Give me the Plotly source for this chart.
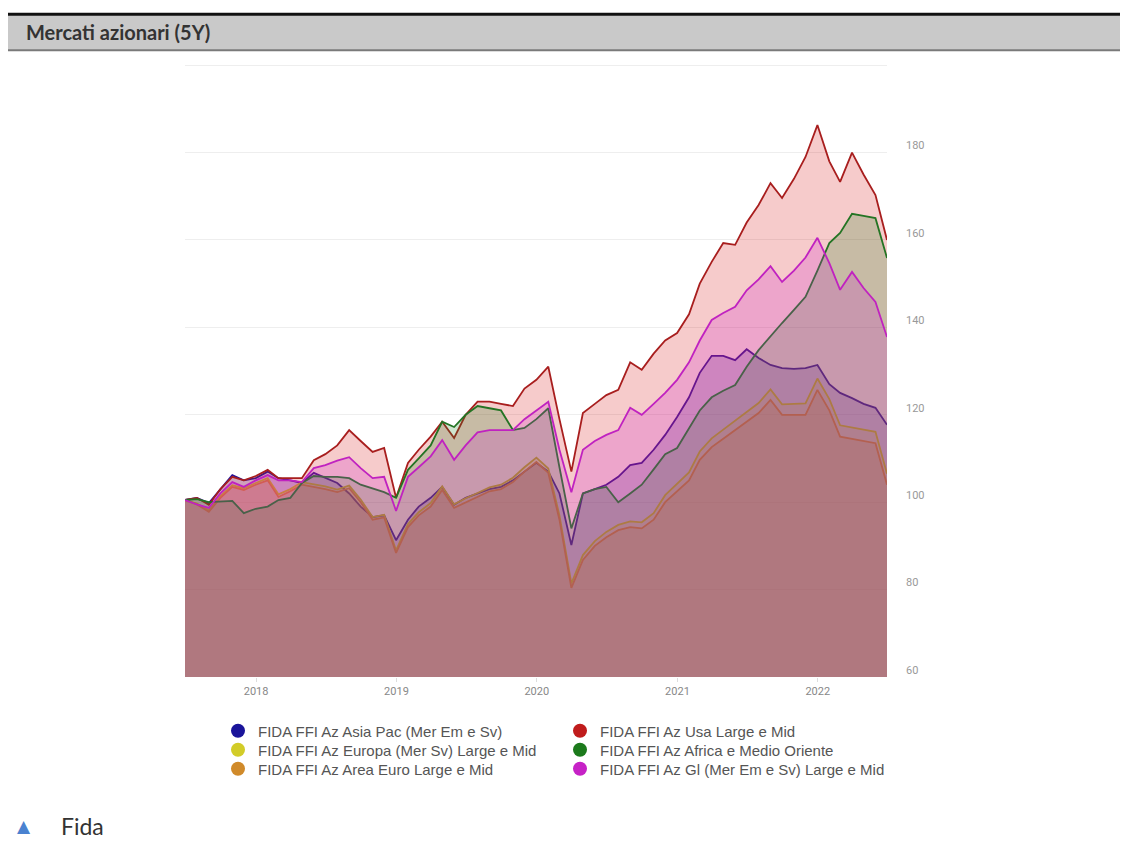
import plotly.graph_objects as go
import pandas as pd

dates = pd.date_range("2017-06-30", "2022-06-30", freq="ME")

asia_pac = [100.5, 101, 99.8, 103, 106.2, 105, 105.5, 107, 105.5, 105, 104.4, 106.7,
            105.5, 104.4, 102, 99, 96.6, 97, 91.3, 96, 99, 101, 103.5, 99.4,
            101, 102, 103, 103.5, 105, 107, 109, 107, 102, 90.2, 102, 103,
            104, 105.8, 108.5, 109, 112, 115.4, 119.5, 124, 129.6, 133.5, 133.5, 132.5,
            135, 133, 131.4, 130.7, 130.5, 130.7, 131.4, 127, 125, 123.8, 122.5, 121.6, 117.7]
usa = [100.5, 101, 99.4, 103, 105.8, 105, 106, 107.4, 105.5, 105.5, 105.5, 109.6,
       111, 113, 116.5, 114, 111.5, 112.4, 101, 109, 112, 115, 118.4, 114.7,
       120, 123, 123, 122.5, 122, 126, 128, 131, 119, 107, 120.4, 122.5,
       124.5, 125.7, 132, 130.3, 134, 137, 138.7, 143, 150, 155, 159.3, 158.9,
       164, 168, 173, 169.6, 174, 179, 186.3, 178, 173.3, 180, 175, 170.3, 160]
area_euro = [100.5, 99.5, 97.8, 101, 103.5, 102.8, 104, 105, 101.2, 102.5, 104, 103.5,
             103, 102.3, 103.2, 100, 96, 96.5, 88.4, 94.3, 97, 99, 102.8, 98.7,
             100, 101.2, 102.5, 103, 104.6, 107, 109.2, 106.7, 96, 80.4, 86.8, 90,
             92, 93.6, 94.3, 94, 96, 100, 102.5, 105, 109.7, 112.6, 114.5, 116.5,
             118.5, 120.4, 123.4, 120, 120, 120, 125.7, 121, 115, 114.5, 114, 113.5, 104]
europa = [100.5, 99.7, 98.2, 101.4, 103.9, 103.2, 104.4, 105.5, 101.8, 103, 104.6, 104.1,
          103.6, 102.9, 103.8, 100.6, 96.6, 97.1, 89, 95, 97.7, 99.8, 103.6, 99.5,
          100.9, 102.1, 103.4, 104, 105.6, 108, 110.2, 107.7, 97, 81.4, 87.9, 91.1,
          93.2, 94.8, 95.6, 95.4, 97.5, 101.6, 104.2, 106.8, 111.6, 114.6, 116.6, 118.6,
          120.7, 122.7, 125.8, 122.4, 122.5, 122.6, 128.3, 123.6, 117.6, 117.1, 116.6, 116.1, 106.5]
africa_mo = [100.5, 100.7, 100, 100.2, 100.3, 97.5, 98.5, 99, 100.5, 101, 104.4, 106,
             105.8, 105.8, 105.5, 104, 103.2, 102.3, 101, 107.4, 110, 113, 118.4, 117.2,
             120, 122, 121.5, 121, 116.5, 117, 119, 121.5, 108, 94, 102, 103,
             103.5, 100, 102, 104, 107.5, 111, 112.4, 117, 121, 124, 125.5, 126.8,
             131, 134.8, 138, 141, 144, 147, 153, 159.3, 161.6, 166, 165.5, 165, 155.9]
globale = [100.5, 99.5, 98.7, 102, 104.6, 103.5, 105, 106.2, 105, 105, 104.6, 107.8,
           108.5, 109.5, 110.3, 107.8, 105.5, 105.8, 98, 105.8, 108, 110.5, 114.2, 109.7,
           113, 116, 116.5, 116.5, 116.5, 119, 121, 123, 112, 102.3, 112, 114,
           115.4, 116.5, 121.6, 120, 122.5, 125, 128, 132, 137, 141.7, 143.3, 144.7,
           148.5, 151, 154, 150.4, 153, 156, 160.5, 154.7, 148.6, 152.7, 149, 145.8, 137.8]

names = ["FIDA FFI Az Asia Pac (Mer Em e Sv)",
         "FIDA FFI Az Europa (Mer Sv) Large e Mid",
         "FIDA FFI Az Area Euro Large e Mid",
         "FIDA FFI Az Usa Large e Mid",
         "FIDA FFI Az Africa e Medio Oriente",
         "FIDA FFI Az Gl (Mer Em e Sv) Large e Mid"]
series = [asia_pac, europa, area_euro, usa, africa_mo, globale]
line_colors = ["#24149a", "#c8c020", "#d4883a", "#a81e1e", "#247424", "#c022c0"]
fill_colors = ["rgba(30,20,170,0.22)", "rgba(210,200,30,0.22)", "rgba(210,130,40,0.22)",
               "rgba(215,20,20,0.22)", "rgba(30,130,30,0.22)", "rgba(205,30,205,0.22)"]
legend_colors = ["#1a149a", "#d2cc28", "#d08a2a", "#c01c1c", "#1c7a1c", "#c622c6"]

y_ticks = [60, 80, 100, 120, 140, 160, 180, 200]
y_labels = ["60", "80", "100", "120", "140", "160", "180", ""]
x_ticks = ["2018-01-01", "2019-01-01", "2020-01-01", "2021-01-01", "2022-01-01"]
x_labels = ["2018", "2019", "2020", "2021", "2022"]

# page has an 8px body margin; reference coordinates are page coordinates
OFF = 8
W, H = 1128, 843
L, R = 185, 887
B = 677
PPU = (677 - 65) / 140.0
Y_TOP = 200.5
T = 65 - (Y_TOP - 200) * PPU


def px(xp):
    return (xp - L) / (R - L)


def py(yp):
    return (B - yp) / (B - T)


fig = go.Figure()
for nm, vals, lc, fc in zip(names, series, line_colors, fill_colors):
    fig.add_trace(go.Scatter(x=dates, y=vals, mode="lines", fill="tozeroy",
                             fillcolor=fc, line=dict(color=lc, width=1.8),
                             showlegend=False, hoverinfo="skip", name=nm))

# one small legend per entry: 2 columns x 3 rows
legend_cols = [218, 218, 218, 560, 560, 560]
legend_rows = [731, 750, 769, 731, 750, 769]
legend_slots = [0, 1, 2, 3, 4, 5]
legend_layout = {}
for k, i in enumerate(legend_slots):
    key = "legend" if k == 0 else f"legend{k + 1}"
    fig.add_trace(go.Scatter(x=[None], y=[None], mode="markers", name=names[i],
                             legend=key, marker=dict(color=legend_colors[i], size=14)))
    legend_layout[key] = dict(x=px(legend_cols[k]), y=py(legend_rows[k]),
                              xanchor="left", yanchor="middle", orientation="v",
                              itemsizing="trace", bgcolor="rgba(0,0,0,0)",
                              font=dict(family="Liberation Sans", size=15, color="#555555"))

shapes = [
    dict(type="rect", xref="paper", yref="paper", x0=px(6), x1=px(1135), y0=py(50), y1=py(14),
         fillcolor="#c9c9c9", line=dict(width=0), layer="above"),
    dict(type="line", xref="paper", yref="paper", x0=px(6), x1=px(1135), y0=py(14), y1=py(14),
         line=dict(color="#111111", width=3)),
    dict(type="line", xref="paper", yref="paper", x0=px(6), x1=px(1135), y0=py(50), y1=py(50),
         line=dict(color="#7a7a7a", width=2)),
]

annotations = [
    dict(xref="paper", yref="paper", x=px(24), y=py(32), xanchor="left", yanchor="middle",
         text="<b>Mercati azionari (5Y)</b>", showarrow=False,
         font=dict(family="Lato", size=20, color="#333333")),
    dict(xref="paper", yref="paper", x=px(15), y=py(826), xanchor="left", yanchor="middle",
         text="▲", showarrow=False, font=dict(family="DejaVu Sans", size=17, color="#4a82d0")),
    dict(xref="paper", yref="paper", x=px(59), y=py(826), xanchor="left", yanchor="middle",
         text="Fida", showarrow=False, font=dict(family="Lato", size=23, color="#333333")),
]

fig.update_layout(
    width=W - OFF, height=H - OFF,
    margin=dict(l=L - OFF, r=W - R, t=T - OFF, b=H - B, autoexpand=False),
    paper_bgcolor="white", plot_bgcolor="white",
    shapes=shapes, annotations=annotations,
    font=dict(family="Roboto", size=11, color="#888888"),
    xaxis=dict(type="date", range=["2017-06-30", "2022-06-30"], tickvals=x_ticks,
               ticktext=x_labels, showgrid=False, zeroline=False, showline=False,
               ticks="outside", ticklen=4, tickcolor="#dddddd",
               tickfont=dict(family="Roboto", size=11, color="#888888")),
    yaxis=dict(side="right", range=[60, Y_TOP], tickvals=y_ticks, ticktext=y_labels,
               showgrid=True, gridcolor="#eeeeee", gridwidth=1, zeroline=False,
               showline=False, ticks="", ticklabelshift=-7, ticklabelstandoff=18,
               tickfont=dict(family="Roboto", size=11, color="#999999")),
    **legend_layout,
)

fig.write_html("out.html")
